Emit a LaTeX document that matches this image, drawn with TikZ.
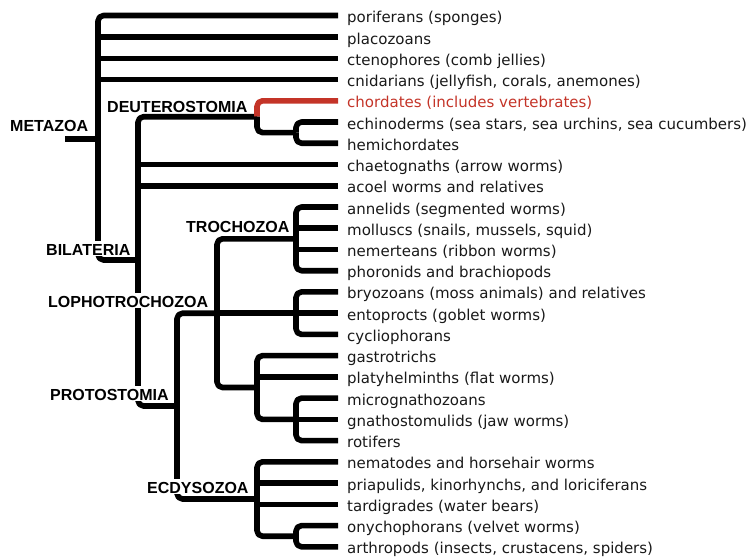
\documentclass[tikz,border=0pt]{standalone}
\usepackage{fontspec}
\setmainfont{DejaVu Sans}
\newfontfamily\cladefont{Liberation Sans}
\definecolor{chordred}{RGB}{196,52,40}
\definecolor{leaftext}{RGB}{25,25,25}
\begin{document}
\begin{tikzpicture}[x=1pt,y=-1pt,
  br/.style={line width=5.6pt, line cap=butt, line join=round, rounded corners=5.5pt},
  midbr/.style={line width=5.6pt, line cap=butt, sharp corners},
  leaf/.style={anchor=base west, inner sep=0pt, text=leaftext, font=\fontsize{15}{18}\selectfont},
  clade/.style={anchor=base west, inner sep=0pt, fill=white, text height=14pt, text depth=1pt,
                font=\cladefont\bfseries\fontsize{16}{19}\selectfont}]
\useasboundingbox (0,0) rectangle (753,558);

% leaf line ends
\coordinate (e1) at (338,15.5);
\coordinate (e2) at (338,37.0);
\coordinate (e3) at (338,58.3);
\coordinate (e4) at (338,79.5);
\coordinate (e5) at (338,100.8);
\coordinate (e6) at (338,122.0);
\coordinate (e7) at (338,143.2);
\coordinate (e8) at (338,164.5);
\coordinate (e9) at (338,185.7);
\coordinate (e10) at (338,207.0);
\coordinate (e11) at (338,228.2);
\coordinate (e12) at (338,249.4);
\coordinate (e13) at (338,270.7);
\coordinate (e14) at (338,291.9);
\coordinate (e15) at (338,313.2);
\coordinate (e16) at (338,334.4);
\coordinate (e17) at (338,355.6);
\coordinate (e18) at (338,376.9);
\coordinate (e19) at (338,398.1);
\coordinate (e20) at (338,419.4);
\coordinate (e21) at (338,440.6);
\coordinate (e22) at (338,461.8);
\coordinate (e23) at (338,483.1);
\coordinate (e24) at (338,504.3);
\coordinate (e25) at (338,525.6);
\coordinate (e26) at (338,546.8);

% internal nodes
\coordinate (dinner) at (296,132.6);
\coordinate (deut) at (257,116.7);
\coordinate (troch) at (296,238.8);
\coordinate (bryo) at (296,313.2);
\coordinate (gnath) at (296,419.4);
\coordinate (platy) at (257,387.5);
\coordinate (lopho) at (217,313.2);
\coordinate (onyarth) at (296,536.2);
\coordinate (ecdy) at (257,499.0);
\coordinate (proto) at (177,406.0);
\coordinate (bil) at (138,260.0);
\coordinate (meta) at (98,139.0);
\coordinate (root) at (65,139.0);

% Metazoa
\draw[br] (e1) -| (meta);
\draw[midbr] (e2) -| (meta);
\draw[midbr] (e3) -| (meta);
\draw[midbr] (e4) -| (meta);
\draw[br] (bil) -| (meta);
\draw[midbr] (root) -- (meta);
% Bilateria
\draw[br] (deut) -| (bil);
\draw[midbr] (e8) -| (bil);
\draw[midbr] (e9) -| (bil);
\draw[br] (proto) -| (bil);
% Deuterostomia
\draw[br, chordred] (e5) -| (deut);
\draw[br] (dinner) -| (deut);
\draw[br] (e6) -| (dinner);
\draw[br] (e7) -| (dinner);
% Protostomia
\draw[br] (lopho) -| (proto);
\draw[br] (ecdy) -| (proto);
% Lophotrochozoa
\draw[br] (troch) -| (lopho);
\draw[midbr] (bryo) -- (lopho);
\draw[br] (platy) -| (lopho);
% Trochozoa
\draw[br] (e10) -| (troch);
\draw[midbr] (e11) -| (troch);
\draw[midbr] (e12) -| (troch);
\draw[br] (e13) -| (troch);
% bryozoan group
\draw[br] (e14) -| (bryo);
\draw[midbr] (e15) -- (bryo);
\draw[br] (e16) -| (bryo);
% platyzoan group
\draw[br] (e17) -| (platy);
\draw[midbr] (e18) -| (platy);
\draw[br] (gnath) -| (platy);
\draw[br] (e19) -| (gnath);
\draw[midbr] (e20) -- (gnath);
\draw[br] (e21) -| (gnath);
% Ecdysozoa
\draw[br] (e22) -| (ecdy);
\draw[midbr] (e23) -| (ecdy);
\draw[midbr] (e24) -| (ecdy);
\draw[br] (onyarth) -| (ecdy);
\draw[br] (e25) -| (onyarth);
\draw[br] (e26) -| (onyarth);

% leaf labels
\node[leaf] (t1) at (347,22.8) {poriferans (sponges)};
\node[leaf] (t2) at (347,44.0) {placozoans};
\node[leaf] (t3) at (347,65.3) {ctenophores (comb jellies)};
\node[leaf] (t4) at (347,86.5) {cnidarians (jellyfish, corals, anemones)};
\node[leaf, text=chordred] (t5) at (347,107.8) {chordates (includes vertebrates)};
\node[leaf] (t6) at (347,129.0) {echinoderms (sea stars, sea urchins, sea cucumbers)};
\node[leaf] (t7) at (347,150.2) {hemichordates};
\node[leaf] (t8) at (347,171.5) {chaetognaths (arrow worms)};
\node[leaf] (t9) at (347,192.7) {acoel worms and relatives};
\node[leaf] (t10) at (347,214.0) {annelids (segmented worms)};
\node[leaf] (t11) at (347,235.2) {molluscs (snails, mussels, squid)};
\node[leaf] (t12) at (347,256.4) {nemerteans (ribbon worms)};
\node[leaf] (t13) at (347,277.7) {phoronids and brachiopods};
\node[leaf] (t14) at (347,298.9) {bryozoans (moss animals) and relatives};
\node[leaf] (t15) at (347,320.2) {entoprocts (goblet worms)};
\node[leaf] (t16) at (347,341.4) {cycliophorans};
\node[leaf] (t17) at (347,362.6) {gastrotrichs};
\node[leaf] (t18) at (347,383.9) {platyhelminths (flat worms)};
\node[leaf] (t19) at (347,405.1) {micrognathozoans};
\node[leaf] (t20) at (347,426.4) {gnathostomulids (jaw worms)};
\node[leaf] (t21) at (347,447.6) {rotifers};
\node[leaf] (t22) at (347,468.8) {nematodes and horsehair worms};
\node[leaf] (t23) at (347,490.1) {priapulids, kinorhynchs, and loriciferans};
\node[leaf] (t24) at (347,511.3) {tardigrades (water bears)};
\node[leaf] (t25) at (347,532.6) {onychophorans (velvet worms)};
\node[leaf] (t26) at (347,553.8) {arthropods (insects, crustacens, spiders)};

% clade labels
\node[clade] (lmeta) at (10,131) {METAZOA};
\node[clade] (ldeut) at (107,112) {DEUTEROSTOMIA};
\node[clade] (lbil) at (46,255) {BILATERIA};
\node[clade] (ltroch) at (186,232) {TROCHOZOA};
\node[clade] (llopho) at (48,307) {LOPHOTROCHOZOA};
\node[clade] (lproto) at (50,400) {PROTOSTOMIA};
\node[clade] (lecdy) at (147,493) {ECDYSOZOA};
\end{tikzpicture}
\end{document}
